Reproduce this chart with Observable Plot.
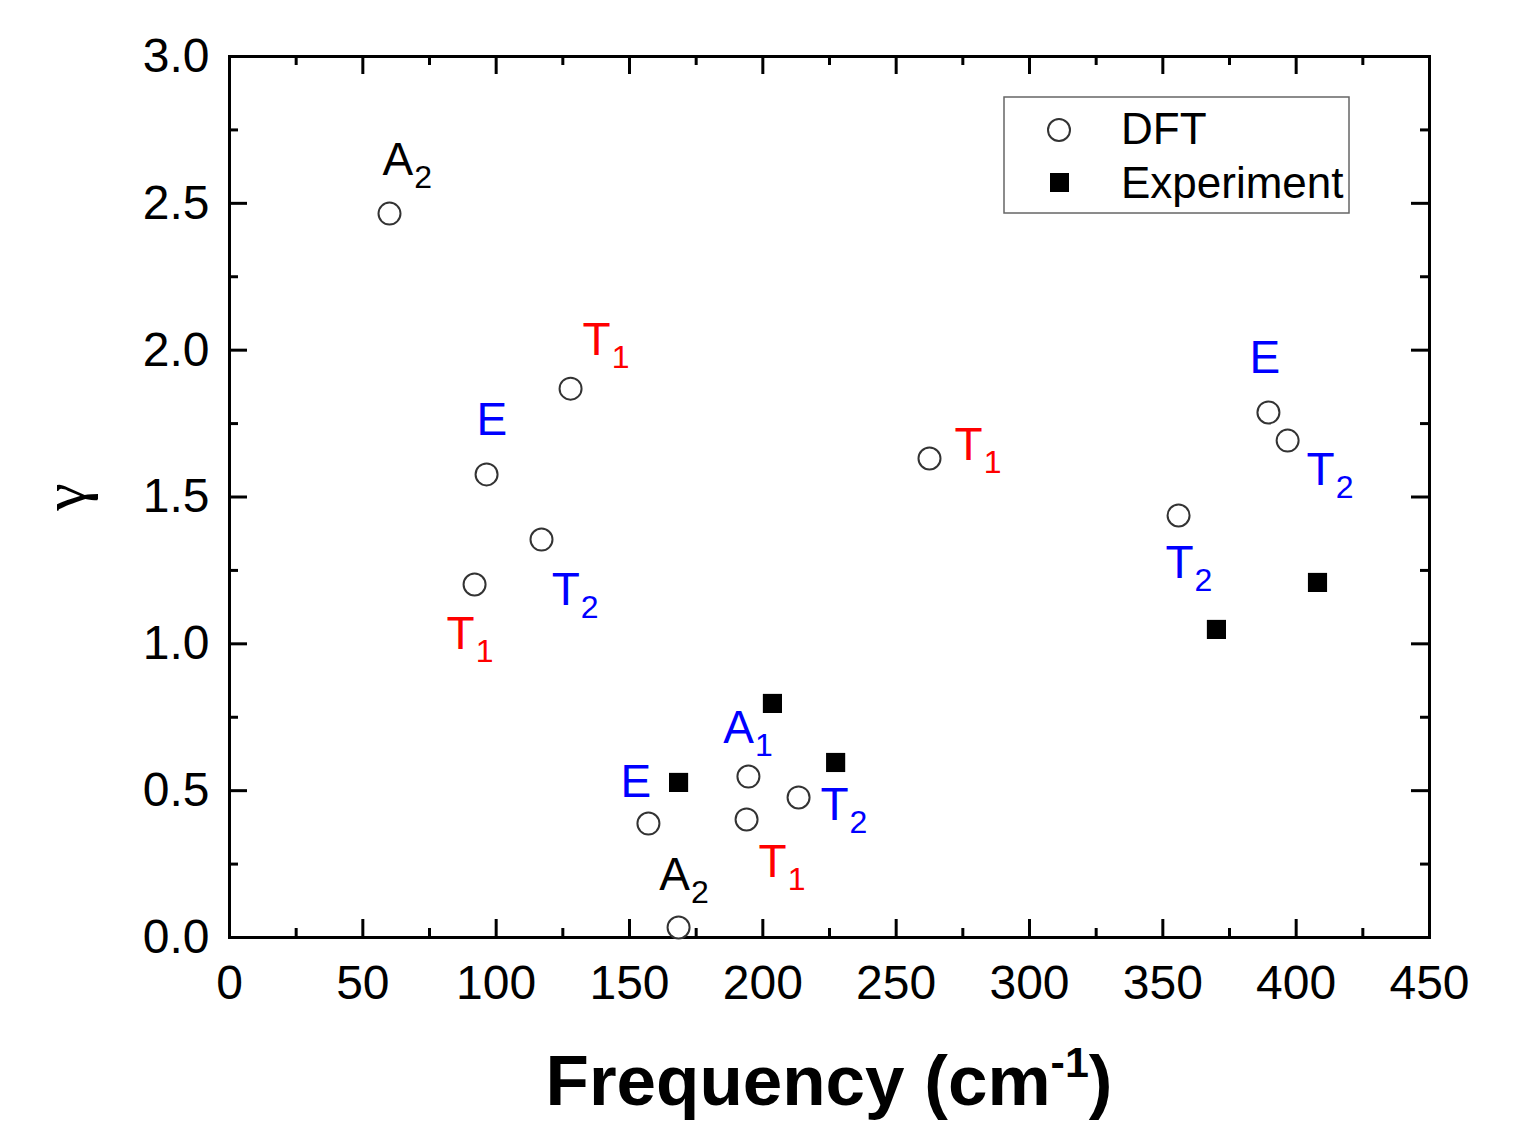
<!DOCTYPE html>
<html>
<head>
<meta charset="utf-8">
<script src="https://cdn.jsdelivr.net/npm/d3@7"></script>
<script src="https://cdn.jsdelivr.net/npm/@observablehq/plot@0.6"></script>
<style>
  html, body { margin: 0; padding: 0; background: #fff; overflow: hidden; }
  svg { display: block; }
</style>
</head>
<body>
<div id="chart"></div>
<script>
// ---- Data ----
const dftFreq  = [60.0, 127.9, 96.4, 117.0, 91.9, 262.5, 355.9, 389.6, 396.8, 157.1, 194.6, 193.9, 213.4, 168.4];
const dftGamma = [2.465, 1.869, 1.577, 1.355, 1.202, 1.631, 1.437, 1.788, 1.692, 0.388, 0.548, 0.402, 0.477, 0.034];

const expFreq  = [168.4, 203.6, 227.3, 370.1, 408.0];
const expGamma = [0.528, 0.797, 0.596, 1.049, 1.209];

// symmetry labels: symbol (letter + subscript) and anchor in data units
const labelSym   = ["A2", "T1", "E", "T2", "T1", "T1", "E", "T2", "T2", "E", "A1", "T2", "T1", "A2"];
const labelFreq  = [57.4, 132.4, 92.6, 120.8, 81.4, 271.9, 382.5, 403.9, 351.0, 146.6, 185.2, 221.6, 198.4, 161.2];
const labelGamma = [2.646, 2.033, 1.762, 1.182, 1.032, 1.675, 1.972, 1.590, 1.274, 0.528, 0.712, 0.449, 0.255, 0.211];

const xTicks = [0, 50, 100, 150, 200, 250, 300, 350, 400, 450];
const xMinor = [25, 75, 125, 175, 225, 275, 325, 375, 425];
const yTicks = [0, 0.5, 1.0, 1.5, 2.0, 2.5, 3.0];
const yMinor = [0.25, 0.75, 1.25, 1.75, 2.25, 2.75];

const legendLabels = ["DFT", "Experiment"];
const xTitleMain = "Frequency (cm";
const xTitleSup = "-1";
const xTitleEnd = ")";
const yTitle = "γ";

// ---- Build tables ----
const dft = dftFreq.map((f, i) => ({freq: f, gamma: dftGamma[i]}));
const exp = expFreq.map((f, i) => ({freq: f, gamma: expGamma[i]}));
const labels = labelSym.map((s, i) => ({sym: s, freq: labelFreq[i], gamma: labelGamma[i]}));

const symColor = {A1: "#0000ff", A2: "#000000", E: "#0000ff", T1: "#ff0000", T2: "#0000ff"};

const W = 1539, H = 1124;
const mL = 229, mR = 110, mT = 56, mB = 187;
const innerW = W - mL - mR, innerH = H - mT - mB;
const major = 18, minor = 9;
const font = "'Liberation Sans', Arial, Helvetica, sans-serif";

const svg = Plot.plot({
  width: W,
  height: H,
  marginLeft: mL,
  marginRight: mR,
  marginTop: mT,
  marginBottom: mB,
  style: {fontFamily: font, color: "#000", background: "#fff", overflow: "visible"},
  x: {domain: [0, 450], label: null},
  y: {domain: [0, 3], label: null},
  marks: [
    // inward ticks on all four sides
    Plot.tickX(xTicks, {x: d => d, insetTop: innerH - major, stroke: "#000", strokeWidth: 3}),
    Plot.tickX(xMinor, {x: d => d, insetTop: innerH - minor, stroke: "#000", strokeWidth: 3}),
    Plot.tickX(xTicks, {x: d => d, insetBottom: innerH - major, stroke: "#000", strokeWidth: 3}),
    Plot.tickX(xMinor, {x: d => d, insetBottom: innerH - minor, stroke: "#000", strokeWidth: 3}),
    Plot.tickY(yTicks, {y: d => d, insetRight: innerW - major, stroke: "#000", strokeWidth: 3}),
    Plot.tickY(yMinor, {y: d => d, insetRight: innerW - minor, stroke: "#000", strokeWidth: 3}),
    Plot.tickY(yTicks, {y: d => d, insetLeft: innerW - major, stroke: "#000", strokeWidth: 3}),
    Plot.tickY(yMinor, {y: d => d, insetLeft: innerW - minor, stroke: "#000", strokeWidth: 3}),
    Plot.frame({stroke: "#000", strokeWidth: 3}),
    Plot.axisX(xTicks, {anchor: "bottom", tickSize: 0, tickPadding: 27, fontSize: 48, tickFormat: d3.format("d"), label: null}),
    Plot.axisY(yTicks, {anchor: "left", tickSize: 0, tickPadding: 20, fontSize: 48, tickFormat: d3.format(".1f"), label: null}),
    Plot.dot(dft, {x: "freq", y: "gamma", r: 11, stroke: "#333", strokeWidth: 2, fill: "#fff"}),
    Plot.dot(exp, {x: "freq", y: "gamma", symbol: "square", r: 10.8, fill: "#000", stroke: "none"}),
    Plot.text(labels, {
      x: "freq", y: "gamma", text: "sym",
      textAnchor: "start", lineAnchor: "middle",
      fontSize: 46, fill: d => symColor[d.sym]
    })
  ]
});

document.getElementById("chart").appendChild(svg);

const s = d3.select(svg);

// subscripts for symmetry labels (letter + digit)
s.selectAll("text").each(function() {
  const t = this.textContent;
  if (/^[AET][12]$/.test(t)) {
    while (this.firstChild) this.removeChild(this.firstChild);
    this.appendChild(document.createTextNode(t[0]));
    d3.select(this).append("tspan")
      .attr("font-size", 32)
      .attr("dy", 13)
      .attr("dx", 1)
      .text(t.slice(1));
  }
});

// x-axis title with superscript
const xt = s.append("text")
  .attr("x", mL + innerW / 2)
  .attr("y", 1105)
  .attr("text-anchor", "middle")
  .attr("font-family", font)
  .attr("font-weight", "bold")
  .attr("font-size", 71)
  .attr("fill", "#000");
xt.append("tspan").text(xTitleMain);
xt.append("tspan").attr("font-size", 43).attr("dy", -28).text(xTitleSup);
xt.append("tspan").attr("font-size", 71).attr("dy", 28).text(xTitleEnd);

// y-axis title (gamma), rotated
s.append("text")
  .attr("transform", "translate(85,497) rotate(-90)")
  .attr("text-anchor", "middle")
  .attr("font-family", "'Liberation Serif', 'DejaVu Serif', serif")
  .attr("font-size", 62)
  .attr("fill", "#000")
  .text(yTitle);

// legend
const lg = s.append("g");
lg.append("rect")
  .attr("x", 1004).attr("y", 97).attr("width", 345).attr("height", 116)
  .attr("fill", "#fff").attr("stroke", "#666").attr("stroke-width", 1.5);
lg.append("circle")
  .attr("cx", 1059).attr("cy", 130).attr("r", 11)
  .attr("fill", "#fff").attr("stroke", "#333").attr("stroke-width", 2);
lg.append("rect")
  .attr("x", 1050).attr("y", 173).attr("width", 19).attr("height", 19)
  .attr("fill", "#000");
legendLabels.forEach((lab, i) => {
  lg.append("text")
    .attr("x", 1121).attr("y", i === 0 ? 144 : 198)
    .attr("text-anchor", "start")
    .attr("font-family", font)
    .attr("font-size", 44)
    .attr("fill", "#000")
    .text(lab);
});
</script>
</body>
</html>
